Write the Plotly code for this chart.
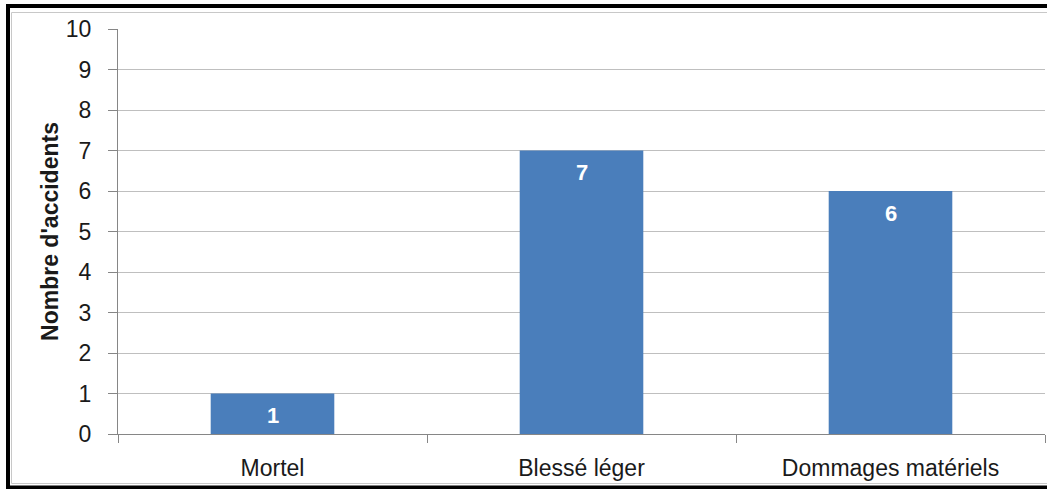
import plotly.graph_objects as go

categories = ["Mortel", "Blessé léger", "Dommages matériels"]
values = [1, 7, 6]
y_ticks = list(range(0, 11))

W, H = 1047, 489
L, R, T, B = 118, 2, 29, 55
pw, ph = W - L - R, H - T - B

def px_x(p):
    return (p - L) / pw

def px_y(p):
    return (H - B - p) / ph

FONT = "Liberation Sans"
BAR = "#4A7EBB"
TXT = "#1A1A1A"

fig = go.Figure(go.Bar(
    x=categories, y=values, width=0.4,
    marker=dict(color=BAR, line=dict(width=0)),
    hoverinfo="skip",
))

for c, v in zip(categories, values):
    fig.add_annotation(x=c, y=v, text=f"<b>{v}</b>", showarrow=False,
                       yanchor="middle", yshift=-22,
                       font=dict(family=FONT, size=22, color="white"))

# outer frame
fig.add_shape(type="rect", xref="paper", yref="paper",
              x0=px_x(8), x1=px_x(1060), y0=px_y(487.5), y1=px_y(6),
              line=dict(color="black", width=4), layer="above")
fig.add_shape(type="rect", xref="paper", yref="paper",
              x0=px_x(11.5), x1=px_x(1060), y0=px_y(483.5), y1=px_y(12.5),
              line=dict(color="#C8C8C8", width=1), layer="above")

fig.update_layout(
    width=W, height=H,
    margin=dict(l=L, r=R, t=T, b=B, pad=0),
    paper_bgcolor="white", plot_bgcolor="white",
    showlegend=False,
    font=dict(family=FONT, size=23, color=TXT),
    xaxis=dict(
        type="category", tickson="boundaries", ticks="outside", ticklen=8,
        tickcolor="#868686", showline=True, linecolor="#868686", linewidth=1,
        showgrid=False, ticklabelstandoff=13,
        tickfont=dict(family=FONT, size=23, color=TXT),
    ),
    yaxis=dict(
        range=[0, 10], tickvals=y_ticks, ticks="outside", ticklen=9,
        tickcolor="#868686", showline=True, linecolor="#868686", linewidth=1,
        showgrid=True, gridcolor="#BFBFBF", gridwidth=1, zeroline=False,
        ticklabelstandoff=12,
        tickfont=dict(family=FONT, size=23, color=TXT),
        title=dict(text="<b>Nombre d'accidents</b>", standoff=0,
                   font=dict(family=FONT, size=23, color=TXT)),
    ),
)

fig.write_html("out.html")
